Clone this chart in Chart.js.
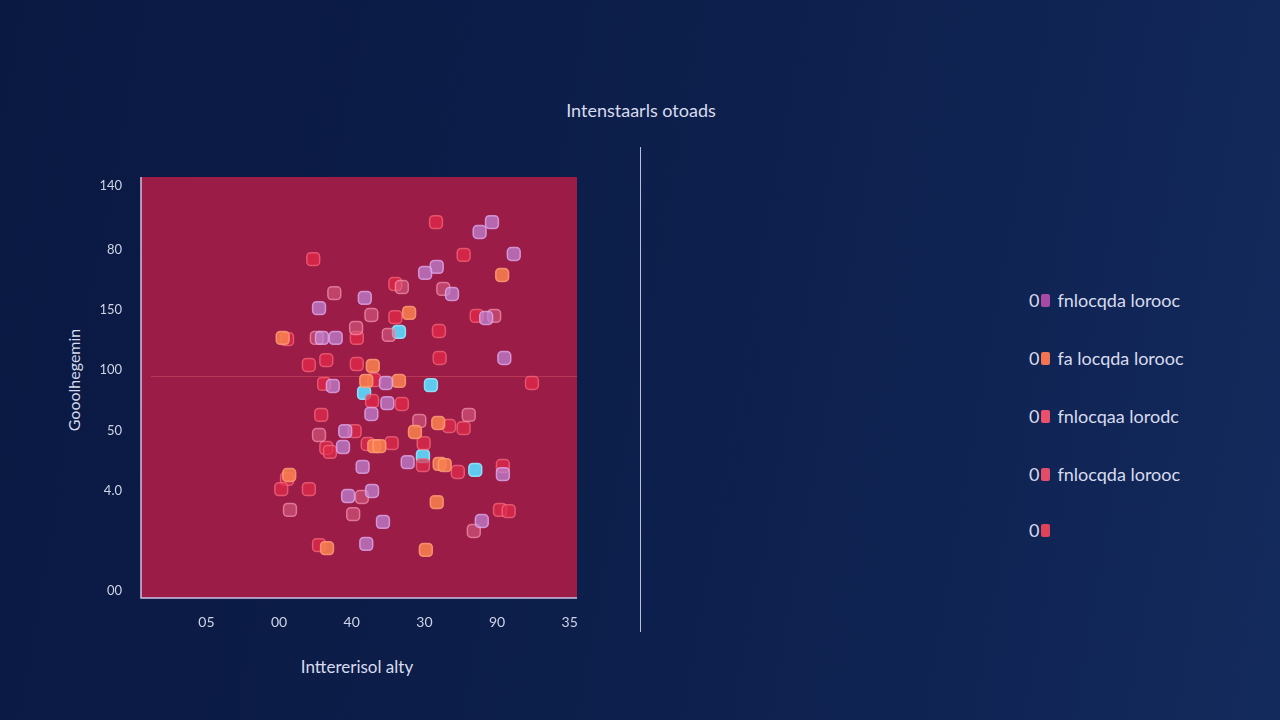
<!DOCTYPE html>
<html><head><meta charset="utf-8">
<script src="https://cdn.jsdelivr.net/npm/chart.js@4/dist/chart.umd.min.js"></script>
<style>
html,body{margin:0;padding:0;width:1280px;height:720px;overflow:hidden;
 background:linear-gradient(100deg,#0a1942 0%,#0d1f4c 55%,#132a5c 100%);font-family:Lato,"Open Sans",sans-serif;}
#wrap{position:absolute;left:0;top:0;width:620px;height:720px;}
.t{position:absolute;color:#d8dbee;font-weight:400;white-space:nowrap;}
#title{left:0;width:1282px;top:99px;text-align:center;font-size:18px;}
#ytitle{left:73px;top:380px;font-size:16px;transform:translate(-50%,-50%) rotate(-90deg);}
#xtitle{left:357px;top:666px;font-size:17px;transform:translate(-50%,-50%);}
#divider{position:absolute;left:640px;top:147px;width:1px;height:485px;background:#b9bfd8;}
.lg{position:absolute;left:1029px;height:20px;display:flex;align-items:center;color:#d8dbee;font-size:18px;font-weight:400;}
.lg .sw{display:inline-block;width:9px;height:13px;border-radius:2px;margin:0 7px 0 2px;}
</style></head>
<body>
<div id="title" class="t">Intenstaarls otoads</div>
<div id="ytitle" class="t">Gooolhegemin</div>
<div id="xtitle" class="t">Inttererisol alty</div>
<div id="divider"></div>
<div id="legend"></div>
<div id="wrap"><canvas id="c" width="620" height="720"></canvas></div>
<script>
const seriesNames = ["fnlocqda lorooc","fa locqda lorooc","fnlocqaa lorodc","fnlocqda lorooc",""];
const legendColors = ["#a64aa6","#f27452","#e8506c","#e24c68","#e0425a"];

const xTickValues = [8,18,28,38,48,58];
const xTickLabels = ["05","00","40","30","90","35"];
const yTickValues = [2.3,35.6,55.5,75.8,95.8,115.7,137];
const yTickLabels = ["00","4.0","50","100","150","80","140"];

const lavenderPts = [[47.3,125.0],[45.6,121.7],[50.3,114.4],[39.7,110.1],[38.1,108.1],[29.8,99.8],[41.8,101.1],[23.5,96.4],[46.5,93.1],[23.9,86.5],[25.8,86.5],[49.0,79.8],[25.4,70.5],[32.7,71.5],[32.9,64.8],[30.7,61.2],[27.1,55.5],[26.8,50.2],[35.7,45.2],[48.8,41.2],[29.5,43.6],[27.5,33.9],[30.8,35.6],[32.3,25.3],[45.9,25.6],[30.0,18.0]];
const orangePts = [[48.7,107.4],[35.9,94.8],[18.5,86.5],[30.9,77.2],[30.0,72.2],[34.5,72.2],[39.9,58.2],[36.7,55.2],[31.1,50.5],[31.8,50.5],[40.1,44.6],[40.8,44.2],[19.4,40.9],[39.7,31.9],[24.6,16.6],[38.2,16.0]];
const pinkPts = [[25.6,101.4],[34.9,103.4],[40.6,102.8],[30.7,94.1],[47.6,93.8],[23.2,86.5],[28.6,89.8],[33.1,87.5],[37.3,58.9],[44.1,60.9],[23.5,54.2],[29.4,33.6],[19.5,29.3],[28.2,27.9],[44.8,22.3]];
const redAPts = [[39.6,125.0],[43.4,114.1],[22.7,112.7],[34.0,104.4],[34.0,93.4],[45.2,93.8],[19.1,86.1],[28.7,86.5],[40.0,88.8],[22.1,77.5],[24.5,79.1],[28.7,77.8],[40.1,79.8],[24.2,71.2],[31.1,72.5],[52.8,71.5],[30.8,65.5],[34.9,64.5]];
const redBPts = [[23.8,60.9],[41.4,57.2],[43.4,56.5],[28.4,55.5],[24.5,49.9],[25.0,48.6],[30.2,51.2],[33.5,51.5],[37.9,51.5],[37.8,44.2],[42.6,41.9],[48.8,43.9],[19.1,39.6],[18.3,36.2],[22.1,36.2],[48.4,29.3],[49.6,28.9],[23.5,17.6]];
const cyanPts = [[34.5,88.5],[29.7,68.2],[38.9,70.8],[37.8,47.2],[45.0,42.6]];

const refLineValue = 73.8;

// legend
const lg = document.getElementById('legend');
const rowsY = [300,358,416,474,530];
seriesNames.forEach((n,i)=>{
  const d=document.createElement('div');d.className='lg';d.style.top=(rowsY[i]-10)+'px';
  d.innerHTML='<span>0</span><span class="sw" style="background:'+legendColors[i]+'"></span><span>'+n+'</span>';
  lg.appendChild(d);
});

const toXY = a => a.map(p=>({x:p[0],y:p[1]}));
function ds(pts, fill, border){
  return {data:toXY(pts),backgroundColor:fill,borderColor:border,borderWidth:1.5,pointStyle:'rectRounded',pointRadius:7.5,pointHoverRadius:7.5};
}

const areaBg = {
  id:'areaBg',
  beforeDraw(ch){
    const a=ch.chartArea,c=ch.ctx;
    c.save();c.fillStyle='#9a1c47';c.fillRect(a.left,a.top,a.right-a.left,a.bottom-a.top);
    const y=ch.scales.y.getPixelForValue(refLineValue);
    c.strokeStyle='rgba(215,80,100,0.55)';c.lineWidth=1;
    c.beginPath();c.moveTo(a.left+10,y+0.5);c.lineTo(a.right,y+0.5);c.stroke();
    c.strokeStyle='#c9c4e6';c.lineWidth=1.5;
    c.beginPath();c.moveTo(a.left,a.top);c.lineTo(a.left,a.bottom);c.lineTo(a.right,a.bottom);c.stroke();
    c.restore();
  }
};

new Chart(document.getElementById('c'),{
  type:'scatter',
  data:{datasets:[
    ds(lavenderPts,'rgba(192,135,215,0.72)','rgba(225,175,240,0.75)'),
    ds(orangePts,'rgba(248,128,80,0.88)','rgba(255,160,120,0.8)'),
    ds(pinkPts,'rgba(222,100,135,0.55)','rgba(245,150,175,0.7)'),
    ds(redAPts,'rgba(230,40,72,0.75)','rgba(250,105,125,0.7)'),
    ds(redBPts,'rgba(226,44,76,0.72)','rgba(248,110,130,0.7)'),
    ds(cyanPts,'rgba(92,212,248,0.95)','rgba(150,230,255,0.9)')
  ]},
  options:{
    responsive:false,animation:false,
    layout:{padding:{left:0,top:177,right:43,bottom:0}},
    plugins:{legend:{display:false},tooltip:{enabled:false}},
    scales:{
      x:{type:'linear',min:-1,max:59,
        afterFit(s){s.height=122;},
        afterBuildTicks(s){s.ticks=xTickValues.map(v=>({value:v}));},
        grid:{display:false},border:{display:false},
        ticks:{padding:8,color:'#d0d3e6',font:{family:'Lato',size:14},callback:(v,i)=>xTickLabels[i]}},
      y:{type:'linear',min:0,max:140,
        afterFit(s){s.width=141;},
        afterBuildTicks(s){s.ticks=yTickValues.map(v=>({value:v}));},
        grid:{display:false},border:{display:false},
        ticks:{padding:11,color:'#d0d3e6',font:{family:'Lato',size:13},callback:(v,i)=>yTickLabels[i]}}
    }
  },
  plugins:[areaBg]
});
</script>
</body></html>
